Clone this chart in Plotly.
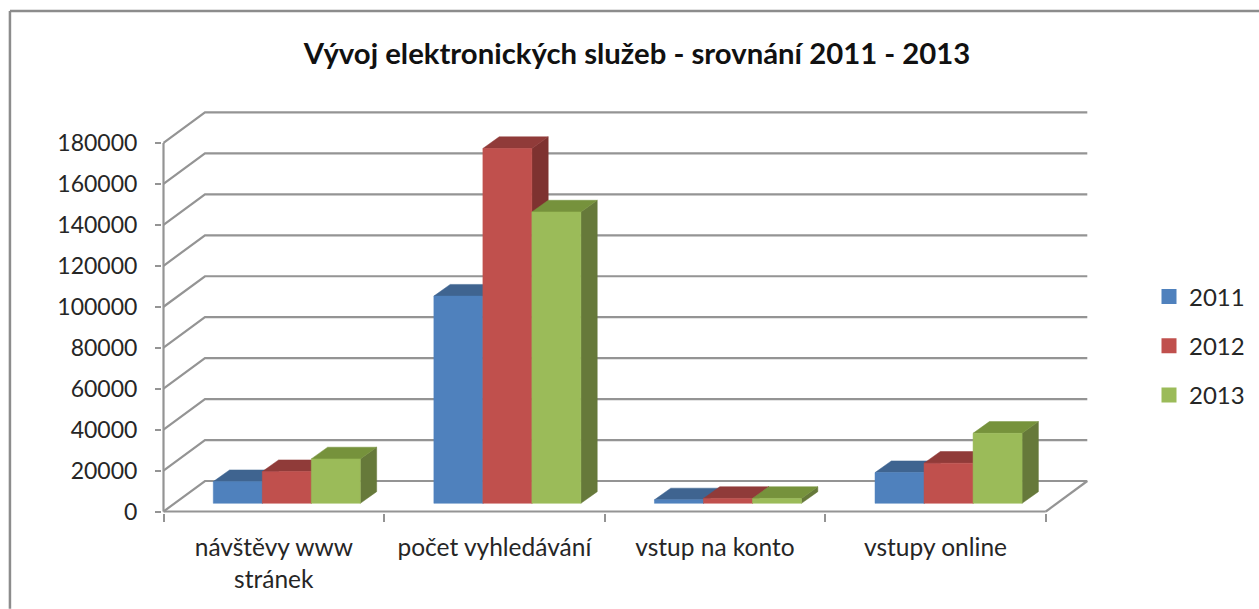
import plotly.graph_objects as go

categories = ["návštěvy www<br>stránek", "počet vyhledávání", "vstup na konto", "vstupy online"]
years = ["2011", "2012", "2013"]
values_2011 = [10600, 101200, 1700, 15000]
values_2012 = [15500, 173300, 2400, 19600]
values_2013 = [21700, 142300, 2400, 34200]
y_ticks = [0, 20000, 40000, 60000, 80000, 100000, 120000, 140000, 160000, 180000]

front_colors = ["#4F81BD", "#C0504D", "#9BBB59"]
top_colors = ["#3F6490", "#903B39", "#76923C"]
side_colors = ["#375A85", "#7E3230", "#66793A"]
GRID = "#949494"
FRAME = "#8C8C8C"
TEXT = "#262626"
FONT = "Lato"

# oblique-projection constants, in axis units
WALL_DX, WALL_DY = 0.188, 14900
BAR_DX0, BAR_DY0 = 0.059, 4000
BAR_DX, BAR_DY = 0.074, 5700
GAP, BAR_W = 1 / 6, 2 / 9
N = len(categories)

# figure layout in pixels
W, H = 1259, 609
L, R, T, B = 162, 1111.65, 102, 513.2
X_MIN, X_MAX, Y_MIN, Y_MAX = -1.5 / 220.5, 4.3, -730, 200000


def paper_x(p):
    return (p - L) / (R - L)


def paper_y(p):
    return (B - p) / (B - T)


fig = go.Figure()

# walls / floor gridlines and the two front axis lines
gx, gy = [], []
for v in y_ticks:
    gx += [0, WALL_DX, N + WALL_DX, None]
    gy += [v, v + WALL_DY, v + WALL_DY, None]
gx += [N, N + WALL_DX, None]
gy += [0, WALL_DY, None]
gx += [0, 0, None, 0, N]
gy += [0, y_ticks[-1], None, 0, 0]
fig.add_trace(go.Scatter(x=gx, y=gy, mode="lines", line=dict(color=GRID, width=2.2),
                         showlegend=False, hoverinfo="skip"))

series = [values_2011, values_2012, values_2013]
for s, vals in enumerate(series):
    fx, fy, tx, ty, sx, sy = [], [], [], [], [], []
    for c, v in enumerate(vals):
        x0 = c + GAP + s * BAR_W + BAR_DX0
        x1 = x0 + BAR_W
        b = BAR_DY0
        t = b + v
        fx += [x0, x1, x1, x0, x0, None]
        fy += [b, b, t, t, b, None]
        tx += [x0, x1, x1 + BAR_DX, x0 + BAR_DX, x0, None]
        ty += [t, t, t + BAR_DY, t + BAR_DY, t, None]
        sx += [x1, x1 + BAR_DX, x1 + BAR_DX, x1, x1, None]
        sy += [b, b + BAR_DY, t + BAR_DY, t, b, None]
    for px, py, col in ((sx, sy, side_colors[s]), (tx, ty, top_colors[s]), (fx, fy, front_colors[s])):
        fig.add_trace(go.Scatter(x=px, y=py, mode="lines", fill="toself", fillcolor=col,
                                 line=dict(color=col, width=0.5), showlegend=False,
                                 hoverinfo="skip"))

for s, y in enumerate(years):
    fig.add_trace(go.Scatter(x=[None], y=[None], mode="markers", name=y, legendgroup=y,
                             marker=dict(symbol="square", size=15, color=front_colors[s])))

fig.update_layout(
    width=W, height=H,
    margin=dict(l=L, r=W - R, t=T, b=H - B),
    paper_bgcolor="white", plot_bgcolor="white",
    font=dict(family=FONT, size=24.5, color=TEXT),
    title=dict(text="<b>Vývoj elektronických služeb - srovnání 2011 - 2013</b>",
               x=637 / W, xanchor="center", y=1 - 54 / H, yanchor="middle",
               font=dict(family=FONT, size=29.3, color="#111111")),
    xaxis=dict(range=[X_MIN, X_MAX], tickvals=[i + 0.5 for i in range(N)], ticktext=categories,
               ticks="outside", ticklen=7, tickcolor="rgba(0,0,0,0)", showgrid=False, zeroline=False,
               showline=False, tickangle=0, ticklabelstandoff=6,
               minor=dict(tickvals=list(range(N + 1)), ticks="outside", ticklen=8, tickcolor=GRID,
                          tickwidth=2, showgrid=False)),
    yaxis=dict(range=[Y_MIN, Y_MAX], tickvals=y_ticks, ticks="outside", ticklen=6, tickcolor=GRID, tickwidth=2,
               showgrid=False, zeroline=False, showline=False, tickformat="d", ticklabelstandoff=13,
               tickfont=dict(size=23)),
    legend=dict(xref="container", yref="container", x=1149 / W, y=1 - 346 / H,
                xanchor="left", yanchor="middle", tracegroupgap=15, itemwidth=30,
                bgcolor="rgba(0,0,0,0)", font=dict(size=24)),
    shapes=[
        dict(type="line", xref="paper", yref="paper", x0=paper_x(10), x1=paper_x(10),
             y0=paper_y(11), y1=paper_y(H), line=dict(color=FRAME, width=2.5)),
        dict(type="line", xref="paper", yref="paper", x0=paper_x(10), x1=paper_x(W),
             y0=paper_y(11), y1=paper_y(11), line=dict(color=FRAME, width=2.5)),
    ],
)
fig.write_html("out.html", post_script="document.body.style.margin='0';",
               config={"displayModeBar": False})
